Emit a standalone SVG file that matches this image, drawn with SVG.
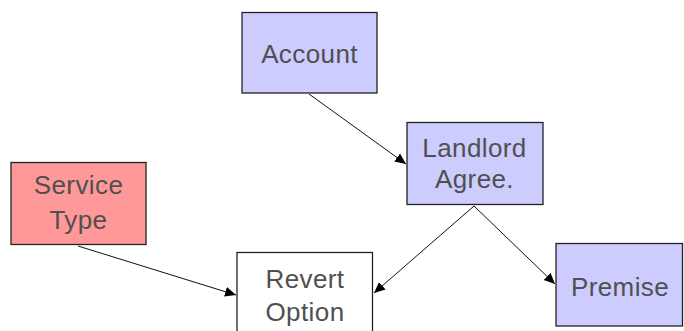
<svg xmlns="http://www.w3.org/2000/svg" width="684" height="331" viewBox="0 0 684 331">
<style>
.box{stroke:#222;stroke-width:1.3}
.blue{fill:#ccccff}
.red{fill:#ff9999}
.white{fill:#ffffff}
text{font-family:"Liberation Sans",Arial,sans-serif;font-size:26px;letter-spacing:0.4px;fill:#505050;text-anchor:middle}
.edge{stroke:#111;stroke-width:1;fill:none;marker-end:url(#arr)}
</style>
<defs>
<marker id="arr" viewBox="0 0 10 10" refX="10" refY="5" markerWidth="11" markerHeight="11" markerUnits="userSpaceOnUse" orient="auto">
<path d="M0,0.5 L10,5 L0,9.5 Z" fill="#000"/>
</marker>
</defs>
<rect width="684" height="331" fill="#fff"/>
<g id="connectors">
<path class="edge" d="M309,94 L406,164"/>
<path class="edge" d="M474,206 L374,293"/>
<path class="edge" d="M474,206 L555,284"/>
<path class="edge" d="M78,246 L236,295"/>
</g>
<g id="account">
<rect class="box blue" x="242" y="12.5" width="135" height="80.5"/>
<text x="309.5" y="63">Account</text>
</g>
<g id="landlord">
<rect class="box blue" x="407" y="122.5" width="136" height="82"/>
<text x="474.5" y="157">Landlord</text>
<text x="474.5" y="188">Agree.</text>
</g>
<g id="service">
<rect class="box red" x="11" y="162.5" width="135" height="82"/>
<text x="78.5" y="194">Service</text>
<text x="78.5" y="229">Type</text>
</g>
<g id="revert">
<rect class="box white" x="237" y="252.5" width="135.5" height="82"/>
<text x="305" y="288">Revert</text>
<text x="305" y="321">Option</text>
</g>
<g id="premise">
<rect class="box blue" x="556" y="243.5" width="126.5" height="82.5"/>
<text x="620" y="296">Premise</text>
</g>
</svg>
